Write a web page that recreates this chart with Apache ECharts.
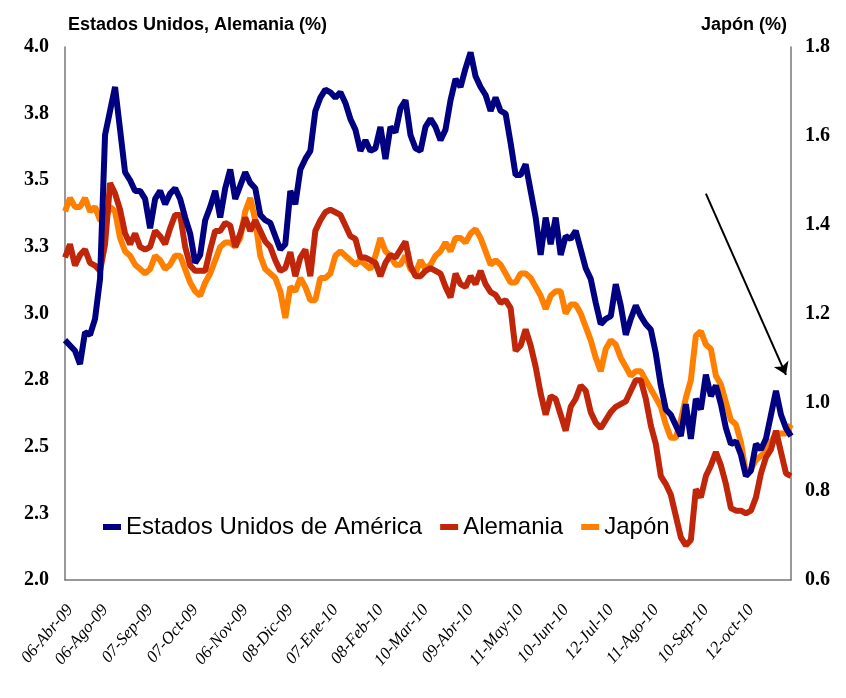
<!DOCTYPE html>
<html>
<head>
<meta charset="utf-8">
<script src="https://cdn.jsdelivr.net/npm/echarts@6/dist/echarts.min.js"></script>
<style>
  html, body { margin: 0; padding: 0; background: #fff; }
  #chart { width: 846px; height: 698px; }
</style>
</head>
<body>
<div id="chart"></div>
<script>
// Rendimiento de bonos a 10 años: Estados Unidos y Alemania (eje izquierdo), Japón (eje derecho)
// Series sampled at regular trading-day steps, abril 2009 - noviembre 2010.

const usaYield = [
  2.90, 2.88, 2.86, 2.81, 2.93, 2.92, 2.98, 3.13, 3.67, 3.76,
  3.85, 3.69, 3.53, 3.50, 3.46, 3.46, 3.43, 3.32, 3.43, 3.46,
  3.41, 3.45, 3.47, 3.43, 3.36, 3.30, 3.19, 3.22, 3.35, 3.40,
  3.46, 3.36, 3.47, 3.54, 3.43, 3.48, 3.53, 3.49, 3.47, 3.37,
  3.35, 3.34, 3.29, 3.24, 3.26, 3.46, 3.41, 3.54, 3.58, 3.61,
  3.76, 3.81, 3.84, 3.83, 3.81, 3.83, 3.79, 3.73, 3.69, 3.61,
  3.65, 3.61, 3.62, 3.70, 3.58, 3.70, 3.68, 3.77, 3.80, 3.67,
  3.62, 3.61, 3.70, 3.73, 3.70, 3.65, 3.69, 3.80, 3.88, 3.85,
  3.92, 3.98, 3.89, 3.85, 3.82, 3.76, 3.81, 3.76, 3.75, 3.64,
  3.52, 3.52, 3.56, 3.46, 3.36, 3.22, 3.36, 3.26, 3.36, 3.22,
  3.29, 3.28, 3.31, 3.24, 3.17, 3.13, 3.04, 2.96, 2.98, 2.99,
  3.11, 3.03, 2.92, 2.98, 3.03, 2.99, 2.96, 2.94, 2.85, 2.73,
  2.64, 2.62, 2.58, 2.54, 2.66, 2.53, 2.68, 2.64, 2.77, 2.69,
  2.73, 2.66, 2.57, 2.51, 2.52, 2.47, 2.39, 2.41, 2.51, 2.49,
  2.53, 2.62, 2.71, 2.62, 2.57, 2.54
];

const germanyYield = [
  3.21, 3.26, 3.18, 3.22, 3.24, 3.19, 3.18, 3.16, 3.26, 3.49,
  3.45, 3.39, 3.30, 3.26, 3.30, 3.25, 3.24, 3.25, 3.31, 3.29,
  3.26, 3.32, 3.37, 3.37, 3.25, 3.18, 3.16, 3.16, 3.16, 3.24,
  3.31, 3.31, 3.34, 3.33, 3.25, 3.30, 3.36, 3.31, 3.35, 3.31,
  3.27, 3.25, 3.20, 3.16, 3.17, 3.23, 3.14, 3.21, 3.24, 3.14,
  3.31, 3.35, 3.38, 3.39, 3.38, 3.37, 3.33, 3.29, 3.28, 3.21,
  3.21, 3.20, 3.19, 3.14, 3.19, 3.22, 3.21, 3.24, 3.27, 3.18,
  3.14, 3.14, 3.16, 3.17, 3.16, 3.15, 3.10, 3.06, 3.15, 3.11,
  3.10, 3.14, 3.11, 3.16, 3.11, 3.08, 3.07, 3.04, 3.05, 3.02,
  2.86, 2.88, 2.94, 2.88, 2.80, 2.70, 2.62, 2.69, 2.68, 2.62,
  2.56, 2.65, 2.68, 2.73, 2.71, 2.63, 2.59, 2.57, 2.60, 2.63,
  2.65, 2.66, 2.67, 2.71, 2.75, 2.75, 2.68, 2.58, 2.51, 2.39,
  2.36, 2.32, 2.24, 2.16, 2.13, 2.15, 2.34, 2.31, 2.39, 2.43,
  2.48, 2.43, 2.36, 2.27, 2.26, 2.26, 2.25, 2.26, 2.31, 2.40,
  2.46, 2.49, 2.56, 2.48, 2.40, 2.39
];

const japanYield = [
  1.43, 1.46, 1.44, 1.44, 1.46, 1.43, 1.44, 1.41, 1.41, 1.44,
  1.43, 1.37, 1.34, 1.33, 1.31, 1.30, 1.29, 1.30, 1.33, 1.32,
  1.30, 1.31, 1.33, 1.33, 1.30, 1.27, 1.25, 1.24, 1.27, 1.29,
  1.32, 1.35, 1.36, 1.36, 1.35, 1.37, 1.43, 1.46, 1.41, 1.33,
  1.30, 1.29, 1.28, 1.25, 1.19, 1.26, 1.25, 1.28, 1.26, 1.23,
  1.23, 1.28, 1.28, 1.29, 1.33, 1.34, 1.33, 1.32, 1.31, 1.32,
  1.31, 1.30, 1.33, 1.37, 1.34, 1.33, 1.31, 1.31, 1.33, 1.30,
  1.29, 1.32, 1.30, 1.31, 1.33, 1.34, 1.36, 1.34, 1.37, 1.37,
  1.36, 1.38, 1.39, 1.37, 1.34, 1.31, 1.32, 1.31, 1.29, 1.27,
  1.27, 1.29, 1.29, 1.28, 1.26, 1.24, 1.21, 1.24, 1.25, 1.25,
  1.20, 1.22, 1.22, 1.20, 1.17, 1.14, 1.10, 1.07, 1.12, 1.14,
  1.13, 1.10, 1.08, 1.06, 1.07, 1.07, 1.05, 1.03, 1.01, 0.99,
  0.95, 0.92, 0.92, 0.96, 1.01, 1.05, 1.15, 1.16, 1.13, 1.12,
  1.06, 1.04, 1.00, 0.96, 0.95, 0.91, 0.84, 0.85, 0.87, 0.88,
  0.89, 0.91, 0.93, 0.93, 0.93, 0.95
];

// Date labels shown on the horizontal axis and the sample index each one sits at
const tickLabels = [
  '06-Abr-09', '06-Ago-09', '07-Sep-09', '07-Oct-09', '06-Nov-09', '08-Dic-09',
  '07-Ene-10', '08-Feb-10', '10-Mar-10', '09-Abr-10', '11-May-10', '10-Jun-10',
  '12-Jul-10', '11-Ago-10', '10-Sep-10', '12-oct-10'
];
const tickIndex = [1, 8, 17, 26, 36, 45, 54, 63, 72, 81, 91, 100, 109, 118, 128, 137];

const seriesNames = ['Estados Unidos de América', 'Alemania', 'Japón'];
const seriesColors = ['#000080', '#C0260A', '#FF8000'];

// Trend arrow (sample index, left-axis value)
const arrowFrom = [128.4, 3.45];
const arrowTo = [143.6, 2.77];

const categories = usaYield.map((_, i) => String(i));
const labelAt = {};
tickIndex.forEach((idx, k) => { labelAt[idx] = tickLabels[k]; });

const serifBold = { fontFamily: "'Liberation Serif', 'Times New Roman', serif", fontWeight: 'bold', fontSize: 20, color: '#000' };
const sansFamily = "'Liberation Sans', Arial, sans-serif";

const chart = echarts.init(document.getElementById('chart'), null, { renderer: 'canvas' });

chart.setOption({
  animation: false,
  backgroundColor: '#ffffff',
  title: [
    { text: 'Estados Unidos, Alemania (%)', left: 63, top: 11,
      textStyle: { fontFamily: sansFamily, fontWeight: 'bold', fontSize: 18, color: '#000' } },
    { text: 'Japón (%)', right: 54, top: 11,
      textStyle: { fontFamily: sansFamily, fontWeight: 'bold', fontSize: 18, color: '#000' } }
  ],
  legend: {
    data: seriesNames,
    left: 98,
    top: 510,
    icon: 'rect',
    itemWidth: 18,
    itemHeight: 6,
    itemGap: 18,
    textStyle: { fontFamily: sansFamily, fontSize: 24, color: '#000' }
  },
  grid: { left: 65, right: 55, top: 47, bottom: 118, outerBoundsMode: 'none' },
  xAxis: {
    type: 'category',
    data: categories,
    boundaryGap: false,
    axisLine: { lineStyle: { color: '#777', width: 1.5 } },
    axisTick: { show: false },
    splitLine: { show: false },
    axisLabel: {
      interval: (i) => labelAt[i] !== undefined,
      formatter: (v, i) => labelAt[i] || '',
      rotate: 50,
      margin: 27,
      fontFamily: "'Liberation Serif', 'Times New Roman', serif",
      fontStyle: 'italic',
      fontSize: 17,
      color: '#000'
    }
  },
  yAxis: [
    {
      type: 'value', min: 2, max: 4, interval: 0.25,
      axisLine: { show: true, lineStyle: { color: '#777', width: 1.5 } },
      axisTick: { show: false },
      splitLine: { show: false },
      axisLabel: Object.assign({ margin: 16, formatter: (v) => v.toFixed(1) }, serifBold)
    },
    {
      type: 'value', min: 0.6, max: 1.8, interval: 0.2,
      position: 'right',
      axisLine: { show: true, lineStyle: { color: '#777', width: 1.5 } },
      axisTick: { show: false },
      splitLine: { show: false },
      axisLabel: Object.assign({ margin: 14, formatter: (v) => v.toFixed(1) }, serifBold)
    }
  ],
  series: [
    {
      name: seriesNames[2], type: 'line', yAxisIndex: 1, data: japanYield,
      showSymbol: false, symbol: 'none',
      lineStyle: { color: seriesColors[2], width: 6 }, itemStyle: { color: seriesColors[2] },
      emphasis: { disabled: true }
    },
    {
      name: seriesNames[1], type: 'line', yAxisIndex: 0, data: germanyYield,
      showSymbol: false, symbol: 'none',
      lineStyle: { color: seriesColors[1], width: 6 }, itemStyle: { color: seriesColors[1] },
      emphasis: { disabled: true }
    },
    {
      name: seriesNames[0], type: 'line', yAxisIndex: 0, data: usaYield,
      showSymbol: false, symbol: 'none',
      lineStyle: { color: seriesColors[0], width: 6 }, itemStyle: { color: seriesColors[0] },
      emphasis: { disabled: true },
      markLine: {
        silent: true,
        symbol: ['none', 'arrow'],
        symbolSize: 12,
        label: { show: false },
        lineStyle: { color: '#000', width: 2, type: 'solid' },
        emphasis: { disabled: true },
        data: [[{ coord: arrowFrom }, { coord: arrowTo }]]
      }
    }
  ]
});
</script>
</body>
</html>
